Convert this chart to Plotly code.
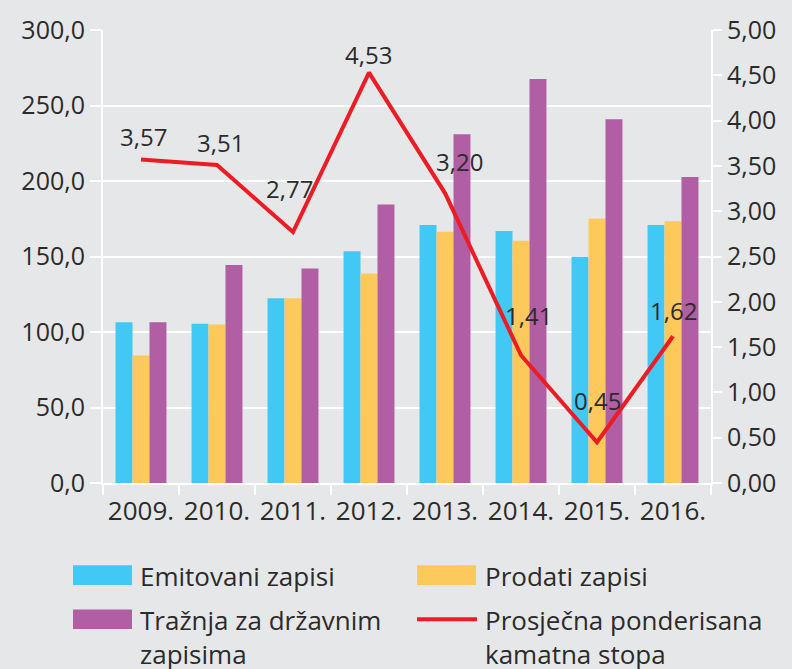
import plotly.graph_objects as go

years = ["2009.", "2010.", "2011.", "2012.", "2013.", "2014.", "2015.", "2016."]
emitovani = [106.5, 105.4, 122.3, 153.5, 170.8, 166.9, 149.8, 170.8]
prodati = [84.4, 105.0, 122.3, 138.7, 166.4, 160.4, 175.1, 173.4]
traznja = [106.5, 144.3, 142.0, 184.4, 231.0, 267.5, 240.9, 202.6]
stopa = [3.57, 3.51, 2.77, 4.53, 3.20, 1.41, 0.45, 1.62]

names = ["Emitovani zapisi", "Prodati zapisi", "Tražnja za državnim<br>zapisima",
         "Prosječna ponderisana<br>kamatna stopa"]
colors = ["#42c8f5", "#fec95c", "#b15ea4", "#ed1c24"]

# label offsets (style only)
label_dx = [2, 3, -4, -1, 14, 7, 0, 0]
label_dy = [23, 22, 44, 18, 32, 40, 42, 26]

BG = "#e6e7e8"
TXT = "#2b2b2b"
FONT = "Open Sans"

fig = go.Figure()
for vals, nm, c in zip([emitovani, prodati, traznja], names[:3], colors[:3]):
    fig.add_trace(go.Bar(x=years, y=vals, name=nm.replace("<br>", " "),
                         marker=dict(color=c, line=dict(width=0)), showlegend=False))
fig.add_trace(go.Scatter(x=years, y=stopa, yaxis="y2", mode="lines",
                         line=dict(color=colors[3], width=4),
                         name=names[3].replace("<br>", " "), showlegend=False))

for i, v in enumerate(stopa):
    fig.add_annotation(x=i, y=v, xref="x", yref="y2", text=f"{v:.2f}".replace(".", ","),
                       showarrow=False, xshift=label_dx[i], yshift=label_dy[i],
                       font=dict(size=24, color=TXT, family=FONT))

# manual legend (pixel geometry)
L, R, T, B = 103, 711, 21, 483
def px(x):
    return (x - L) / (R - L)
def py(y):
    return (B - y) / (B - T)

LEG_FS = 26
legend_geom = [
    (73, 132, 567, 587, 140, 578),
    (417, 476, 567, 587, 485, 578),
    (73, 132, 612, 632, 140, 623),
    (417, 477, 620, 624, 485, 623),
]
for k, (x0, x1, y0, y1, tx, ty) in enumerate(legend_geom):
    fig.add_shape(type="rect", xref="paper", yref="paper",
                  x0=px(x0), x1=px(x1), y0=py(y1), y1=py(y0),
                  fillcolor=colors[k], line=dict(width=0), layer="above")
    nlines = names[k].count("<br>") + 1
    cy = ty + (nlines - 1) * LEG_FS * 1.3 / 2
    fig.add_annotation(xref="paper", yref="paper", x=px(tx - 2), y=py(cy),
                       xanchor="left", yanchor="middle", align="left", showarrow=False,
                       text=names[k], font=dict(size=LEG_FS, color=TXT, family=FONT))

fig.update_layout(
    width=792, height=669,
    margin=dict(l=L, r=792 - R, t=T, b=669 - B),
    paper_bgcolor=BG, plot_bgcolor=BG,
    separators=", ",
    barmode="group", bargap=0.33, bargroupgap=0,
    font=dict(family=FONT, size=25, color=TXT),
    xaxis=dict(type="category", range=[-0.5, len(years) - 0.5], tickson="boundaries",
               ticks="outside", ticklen=10, tickangle=0, ticklabelstandoff=4,
               tickwidth=2, tickcolor="white", showline=True, linecolor="white",
               linewidth=2, showgrid=False, tickfont=dict(size=26, color=TXT)),
    yaxis=dict(range=[0, 300], dtick=50, tickformat=".1f", ticks="outside",
               ticklen=11, tickwidth=2, tickcolor="white", showline=True,
               linecolor="white", linewidth=2, gridcolor="white", gridwidth=2,
               zeroline=False, tickfont=dict(size=25, color=TXT)),
    yaxis2=dict(range=[0, 5], dtick=0.5, tickformat=".2f", overlaying="y", side="right",
                ticks="outside", ticklen=9, tickwidth=2, tickcolor="white",
                showline=True, linecolor="white", linewidth=2, showgrid=False,
                zeroline=False, tickfont=dict(size=25, color=TXT)),
)

fig.write_html("out.html")
